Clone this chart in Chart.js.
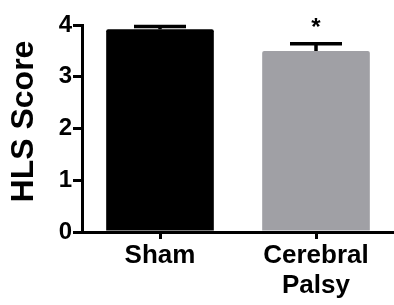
<!DOCTYPE html>
<html>
<head>
<meta charset="utf-8">
<script src="https://cdn.jsdelivr.net/npm/chart.js@4.4.1/dist/chart.umd.min.js"></script>
<style>
  html, body { margin: 0; padding: 0; background: #fff; }
  #wrap { width: 394px; height: 305px; position: relative; }
</style>
</head>
<body>
<div id="wrap"><canvas id="c" width="394" height="305"></canvas></div>
<script>
const categories = [['Sham'], ['Cerebral', 'Palsy']];
const means = [3.92, 3.50];
const sems = [0.05, 0.14];
const significance = ['', '*'];
const barColors = ['#000000', '#a0a0a5'];
const yTicks = [0, 1, 2, 3, 4];
const yTitle = 'HLS Score';

const FONT = "'Liberation Sans', Arial, Helvetica, sans-serif";

const errorBarPlugin = {
  id: 'errorBars',
  afterDatasetsDraw(chart) {
    const ctx = chart.ctx;
    const meta = chart.getDatasetMeta(0);
    const y = chart.scales.y;
    ctx.save();
    ctx.strokeStyle = '#000';
    ctx.lineWidth = 3.5;
    ctx.lineCap = 'butt';
    meta.data.forEach((bar, i) => {
      const x = bar.x;
      const top = y.getPixelForValue(means[i] + sems[i]);
      const mid = y.getPixelForValue(means[i]);
      const half = 26;
      ctx.beginPath();
      ctx.moveTo(x, mid);
      ctx.lineTo(x, top);
      ctx.moveTo(x - half, top);
      ctx.lineTo(x + half, top);
      ctx.stroke();
      if (significance[i]) {
        ctx.fillStyle = '#000';
        ctx.font = 'bold 24px ' + FONT;
        ctx.textAlign = 'center';
        ctx.textBaseline = 'alphabetic';
        ctx.fillText(significance[i], x, top - 9);
      }
    });
    ctx.restore();
  }
};

// y-axis title, placed like the reference (slightly above the plot centre)
const yTitlePlugin = {
  id: 'yTitle',
  afterDraw(chart) {
    const ctx = chart.ctx;
    const s = chart.scales.y;
    ctx.save();
    ctx.translate(s.left + 33, (s.top + s.bottom) / 2 - 7);
    ctx.rotate(-Math.PI / 2);
    ctx.fillStyle = '#000';
    ctx.font = 'bold 32px ' + FONT;
    ctx.textAlign = 'center';
    ctx.textBaseline = 'alphabetic';
    ctx.fillText(yTitle, 0, 0);
    ctx.restore();
  }
};

new Chart(document.getElementById('c'), {
  type: 'bar',
  data: {
    labels: categories,
    datasets: [{
      data: means,
      backgroundColor: barColors,
      borderWidth: 0,
      borderRadius: 2,
      borderSkipped: 'bottom',
      barPercentage: 0.69,
      categoryPercentage: 1.0
    }]
  },
  options: {
    responsive: false,
    animation: false,
    devicePixelRatio: 1,
    layout: { padding: { top: 25, right: 0, left: 0, bottom: 0 } },
    plugins: { legend: { display: false }, tooltip: { enabled: false } },
    scales: {
      x: {
        afterFit: s => { s.height = 73; },
        grid: {
          display: true,
          drawOnChartArea: false,
          drawTicks: true,
          tickLength: 7,
          color: '#000',
          lineWidth: 3,
          offset: false
        },
        border: { display: true, color: '#000', width: 3 },
        ticks: {
          color: '#000',
          padding: 2,
          font: { family: FONT, size: 26, weight: 'bold', lineHeight: 1.15 }
        }
      },
      y: {
        min: 0,
        max: 4,
        afterFit: s => { s.width = 82; },
        afterBuildTicks: s => { s.ticks = yTicks.map(v => ({ value: v })); },
        grid: {
          display: true,
          drawOnChartArea: false,
          drawTicks: true,
          tickLength: 9,
          color: '#000',
          lineWidth: 3
        },
        border: { display: true, color: '#000', width: 3 },
        ticks: {
          color: '#000',
          padding: 1,
          font: { family: FONT, size: 24, weight: 'bold' }
        },
        title: { display: false, text: yTitle }
      }
    }
  },
  plugins: [errorBarPlugin, yTitlePlugin]
});
</script>
</body>
</html>
